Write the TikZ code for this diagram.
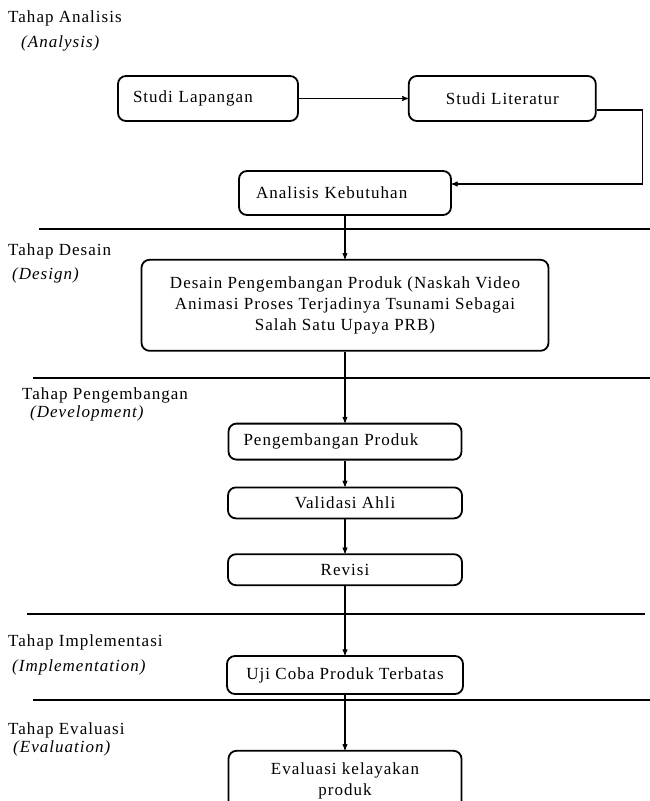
\documentclass[tikz,border=0pt]{standalone}
\usepackage{fontspec}
\setmainfont{Liberation Serif}[LetterSpace=6]
\usepackage{tikz}
\usetikzlibrary{arrows,positioning}
\usetikzlibrary{calc}
\tikzset{
	%Define standard arrow tip
	>=stealth',
	%Define style for phase labels
	tahap/.style={anchor=west, inner sep=0pt, font=\fontsize{17pt}{21pt}\selectfont},
	%Define style for boxes
	kotak/.style={
		rectangle,
		rounded corners=8pt,
		draw=black, line width=1.8pt,
		inner sep=0pt,
		align=center,
		font=\fontsize{17pt}{21pt}\selectfont},
	% Define arrow style
	panah/.style={
		->,
		line width=1.1pt},
	% Define style for separator lines
	garis/.style={line width=1.2pt}
}

\begin{document}
\begin{tikzpicture}[x=1pt,y=-1pt]
	\useasboundingbox (0,0) rectangle (650,801);
	% phase labels
	\node[tahap] (tAnalisis) at (8,18) {Tahap Analisis};
	\node[tahap] (eAnalisis) at (21,43) {\textit{(Analysis)}};
	\node[tahap] (tDesain) at (8,251) {Tahap Desain};
	\node[tahap] (eDesain) at (12,275) {\textit{(Design)}};
	\node[tahap] (tPengembangan) at (22,395) {Tahap Pengembangan};
	\node[tahap] (ePengembangan) at (30,413) {\textit{(Development)}};
	\node[tahap] (tImplementasi) at (8,642) {Tahap Implementasi};
	\node[tahap] (eImplementasi) at (12,667) {\textit{(Implementation)}};
	\node[tahap] (tEvaluasi) at (8,730) {Tahap Evaluasi};
	\node[tahap] (eEvaluasi) at (13,748) {\textit{(Evaluation)}};
	% node Studi Lapangan
	\node[kotak, text width=150pt, inner xsep=15pt, minimum height=45pt, align=left] (lapangan) at (208,98.5) {Studi Lapangan};
	% node Studi Literatur
	\node[kotak, minimum width=187pt, minimum height=45pt, right=109pt of lapangan] (literatur) {Studi Literatur};
	% node Analisis Kebutuhan
	\node[kotak, text width=178pt, inner xsep=17pt, minimum height=44pt, align=left] (kebutuhan) at (345,193) {Analisis Kebutuhan};
	% node Desain
	\node[kotak, minimum width=407pt, minimum height=91pt, below=43pt of kebutuhan] (desain) {Desain Pengembangan Produk (Naskah Video\\ Animasi Proses Terjadinya Tsunami Sebagai\\ Salah Satu Upaya PRB)};
	% nodes Pengembangan
	\node[kotak, text width=203pt, inner xsep=15pt, minimum height=36pt, align=left, below=71pt of desain] (produk) {Pengembangan Produk};
	\node[kotak, minimum width=234pt, minimum height=31pt, below=26pt of produk] (validasi) {Validasi Ahli};
	\node[kotak, minimum width=234pt, minimum height=31pt, below=34pt of validasi] (revisi) {Revisi};
	% node Uji Coba
	\node[kotak, minimum width=236pt, minimum height=38pt, below=69pt of revisi] (ujicoba) {Uji Coba Produk Terbatas};
	% node Evaluasi
	\node[kotak, minimum width=233pt, minimum height=60pt, below=55pt of ujicoba] (evaluasi) {Evaluasi kelayakan\\ produk};
	% separator lines
	\draw[garis] (39,229) -- (650,229);
	\draw[garis] (33,378) -- (650,378);
	\draw[garis] (27,614) -- (645,614);
	\draw[garis] (33,700) -- (650,700);
	% arrows
	\draw[panah] (lapangan.east) -- (literatur.west);
	\draw[panah] ($(literatur.east)+(0,11.5)$) -- ($(literatur.east)+(46,11.5)$) |- ($(kebutuhan.east)+(0,-9)$);
	\draw[panah] (kebutuhan.south) -- (desain.north);
	\draw[panah] (desain.south) -- (produk.north);
	\draw[panah] (produk.south) -- (validasi.north);
	\draw[panah] (validasi.south) -- (revisi.north);
	\draw[panah] (revisi.south) -- (ujicoba.north);
	\draw[panah] (ujicoba.south) -- (evaluasi.north);
\end{tikzpicture}
\end{document}
